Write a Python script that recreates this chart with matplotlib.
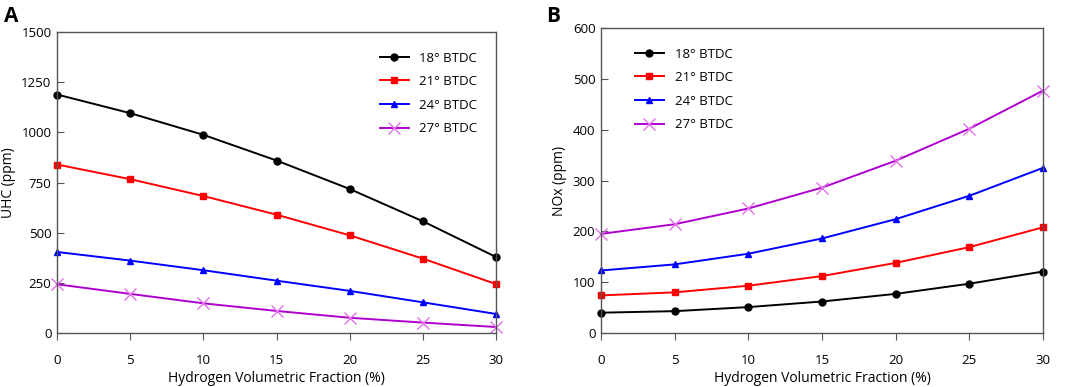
import matplotlib.pyplot as plt

plt.rcParams["font.family"] = ["Open Sans", "DejaVu Sans"]

h2_frac = [0, 5, 10, 15, 20, 25, 30]
labels = ["18° BTDC", "21° BTDC", "24° BTDC", "27° BTDC"]

uhc_18 = [1189, 1096, 988, 860, 718, 557, 379]
uhc_21 = [840, 767, 683, 590, 487, 371, 244]
uhc_24 = [404, 361, 313, 261, 210, 153, 95]
uhc_27 = [243, 195, 148, 110, 76, 52, 30]

nox_18 = [40, 43, 51, 62, 77, 97, 121]
nox_21 = [74, 80, 93, 112, 138, 169, 208]
nox_24 = [123, 135, 156, 186, 224, 270, 325]
nox_27 = [195, 214, 245, 286, 339, 402, 477]

styles = [
    dict(color="black", marker="o", markersize=5),
    dict(color="#ff0000", marker="s", markersize=5),
    dict(color="#0000ff", marker="^", markersize=4),
    dict(color="#b000d0", marker="x", markersize=8, markeredgecolor="#e070e8",
         markeredgewidth=1.0),
]

fig = plt.figure(figsize=(10.72, 3.87), dpi=100)
ax_a = fig.add_axes([0.0532, 0.1395, 0.4095, 0.7775])
ax_b = fig.add_axes([0.5606, 0.1395, 0.4124, 0.788])


def style_axes(ax):
    for sp in ax.spines.values():
        sp.set_color("#555555")
        sp.set_linewidth(1.0)
    ax.tick_params(axis="x", direction="out", length=5, color="#555555",
                   labelsize=9.5, pad=10)
    ax.tick_params(axis="y", direction="in", length=5, color="#555555",
                   labelsize=9.5, pad=4)
    ax.set_xlim(0, 30)
    ax.set_xticks(h2_frac)
    ax.set_xlabel("Hydrogen Volumetric Fraction (%)", fontsize=10, labelpad=3)


# Panel A: UHC
for ys, lab, st in zip([uhc_18, uhc_21, uhc_24, uhc_27], labels, styles):
    ax_a.plot(h2_frac, ys, label=lab, linewidth=1.4, clip_on=False, **st)
style_axes(ax_a)
ax_a.set_ylim(0, 1500)
ax_a.set_yticks([0, 250, 500, 750, 1000, 1250, 1500])
ax_a.set_ylabel("UHC (ppm)", fontsize=10, labelpad=4)
ax_a.legend(loc="upper right", frameon=False, fontsize=9.5,
            bbox_to_anchor=(0.985, 0.975), handlelength=2.2, handletextpad=0.8,
            labelspacing=0.8)
fig.text(0.004, 0.985, "A", fontsize=15, fontweight="bold", va="top")

# Panel B: NOx
for ys, lab, st in zip([nox_18, nox_21, nox_24, nox_27], labels, styles):
    ax_b.plot(h2_frac, ys, label=lab, linewidth=1.4, clip_on=False, **st)
style_axes(ax_b)
ax_b.set_ylim(0, 600)
ax_b.set_yticks([0, 100, 200, 300, 400, 500, 600])
ax_b.set_ylabel("NOx (ppm)", fontsize=10, labelpad=4)
ax_b.legend(loc="upper left", frameon=False, fontsize=9.5,
            bbox_to_anchor=(0.05, 0.975), handlelength=2.2, handletextpad=0.8,
            labelspacing=0.8)
fig.text(0.509, 0.985, "B", fontsize=15, fontweight="bold", va="top")

fig.savefig("out.png", dpi=100)
